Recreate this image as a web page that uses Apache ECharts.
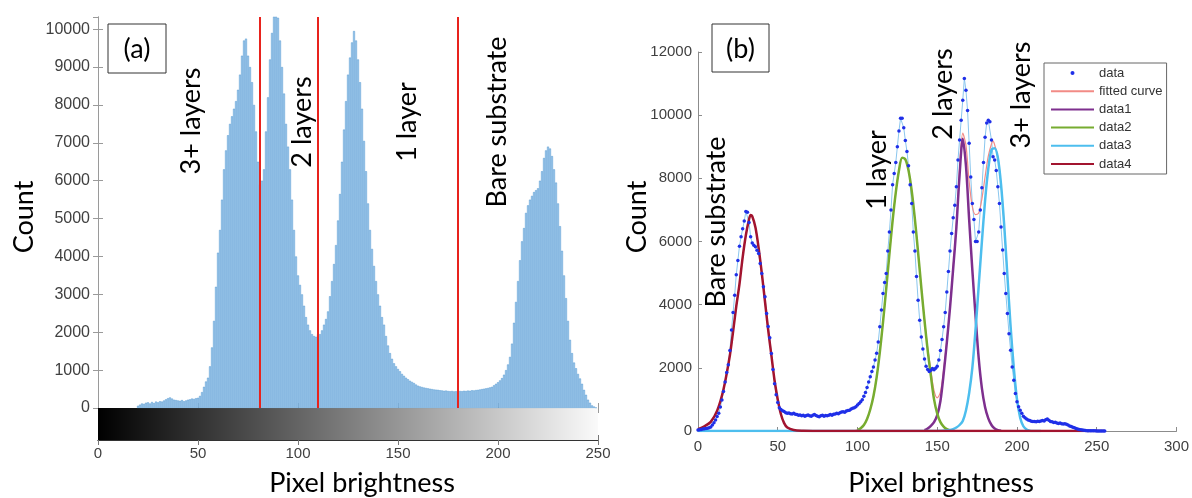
<!DOCTYPE html>
<html>
<head>
<meta charset="utf-8">
<script src="https://cdn.jsdelivr.net/npm/echarts@6/dist/echarts.min.js"></script>
<style>
  html, body { margin: 0; padding: 0; background: #fff; }
  #main { width: 1192px; height: 498px; }
</style>
</head>
<body>
<div id="main"></div>
<script>
// ---------- Panel (a): brightness histogram, one bin per grey level ----------
const histogramCounts = [
  0,0,0,0,0,0,0,0,0,0,
  0,0,0,0,0,0,0,0,0,0,
  60,90,120,110,140,150,120,160,130,170,
  150,180,170,200,230,260,280,250,220,210,
  200,190,210,180,200,220,230,250,240,260,
  270,320,420,560,700,800,1100,1600,2300,3200,
  4100,4700,5500,6300,6800,7200,7500,7700,7900,8100,
  8400,8800,9300,9700,9750,9300,9000,8600,8000,7300,
  6500,5900,6000,6300,7300,8200,9200,9900,10600,10600,
  10300,9700,9000,8300,7500,6900,6300,5500,4700,4000,
  3500,3250,3000,2700,2400,2200,2050,1950,1900,1880,
  1950,1950,2050,2200,2350,2550,2950,3350,3800,4300,
  4950,5650,6500,7350,8100,8800,9250,9650,9950,9700,
  9200,8600,7900,7050,6250,5400,4700,4200,3750,3350,
  3000,2700,2400,2200,1900,1650,1450,1300,1180,1100,
  1030,970,900,850,800,760,720,690,660,620,
  590,570,555,540,530,520,510,500,490,485,
  480,470,465,455,460,450,445,450,440,445,
  440,450,445,455,450,460,455,470,465,475,
  480,490,500,510,520,530,545,560,600,640,
  680,730,790,880,1000,1150,1350,1700,2250,2800,
  3350,3900,4400,4750,5150,5350,5500,5600,5700,5750,
  5800,6000,6250,6600,6800,6900,6850,6650,6300,5950,
  5400,4800,4150,3500,2900,2300,1800,1450,1200,1050,
  900,780,640,480,350,220,140,70,40,15,
  0
];
// Grey-level thresholds separating the layer classes
const thresholds = [81, 110, 180];
// Grey ramp shown under the histogram
const grayRamp = [0, 255];
const brightnessRangeA = [0, 250];
const countRangeA = [0, 10320];

// ---------- Panel (b): inverted histogram with Gaussian fits ----------
const dotCounts = [
  30,40,50,60,70,80,90,100,130,190,
  260,350,460,560,760,980,1250,1550,1850,2100,
  2550,3200,3750,4300,4950,5400,5850,6150,6400,6650,
  6950,6930,6600,6150,5950,5880,5830,5720,5620,5300,
  4990,4570,4250,3720,3310,2950,2450,1950,1500,1150,
  900,740,680,640,620,580,560,570,550,540,
  560,530,520,500,510,480,500,470,490,510,
  480,470,500,520,490,470,450,480,500,470,
  490,480,500,520,500,530,540,560,550,580,
  600,610,590,630,650,660,700,720,740,770,
  820,870,930,990,1100,1220,1380,1550,1720,1880,
  2030,2250,2460,2820,3300,3830,4350,4700,4990,5700,
  6300,7000,7800,8150,8500,9000,9500,9900,9900,9600,
  9200,8850,8400,7800,7200,6300,5700,4890,4140,3510,
  2980,2600,2280,2050,1950,1880,1920,1980,1940,1990,
  2050,2250,2550,2900,3300,3750,4400,5050,5700,6250,
  6750,7150,7730,8580,9210,9840,10470,11160,10790,10150,
  9110,8040,7200,6700,6000,6000,6300,7000,7700,8500,
  9300,9750,9840,9790,9210,8680,8580,8250,7730,7200,
  6460,5730,4990,4350,3720,3080,2560,2030,1610,1190,
  930,770,660,560,470,420,380,350,330,310,
  300,300,290,310,300,320,330,320,360,380,
  340,300,290,270,280,250,240,250,230,220,
  230,210,190,160,140,120,100,80,60,50,
  40,30,20,15,10,8,6,5,5,4,
  3,3,2,2,1,1
];
const fittedCurve = [
  [0,60],[4,150],[8,290],[12,640],[16,1320],[20,2400],[22,3150],[24,3950],[26,4650],[28,5500],
  [30,6200],[32,6700],[33,6840],[34,6800],[36,6450],[38,5800],[40,5000],[42,4100],[44,3200],[46,2400],
  [48,1600],[50,1000],[52,530],[54,250],[56,110],[60,30],[66,5],[72,0],[98,0],[100,40],
  [102,90],[104,190],[106,380],[108,680],[110,1100],[112,1700],[114,2500],[116,3450],[118,4500],[120,5600],
  [122,6650],[124,7550],[126,8250],[128,8650],[130,8600],[132,8250],[134,7600],[136,6700],[138,5650],[140,4550],
  [142,3540],[144,2640],[146,1920],[148,1280],[150,1050],[152,1230],[154,1940],[156,2860],[158,3920],[160,5210],
  [162,6560],[164,8290],[166,9430],[168,9050],[170,7900],[172,7100],[174,6850],[176,6900],[178,7350],[180,8050],
  [182,8700],[184,9090],[185,9180],[186,9060],[188,8680],[190,7805],[192,6500],[194,4900],[196,3300],[198,2000],
  [200,1000],[202,420],[204,150],[206,50],[208,10],[210,0],[255,0]
];
const data1Curve = [
  [142,30],[144,80],[146,160],[148,280],[150,500],[152,950],[154,1800],[156,2800],[158,3900],[160,5150],
  [162,6450],[164,8100],[166,9250],[168,8400],[170,6700],[172,5100],[174,3650],[176,2300],[178,1350],[180,750],
  [182,400],[184,190],[186,80],[188,30],[190,5]
];
const data2Curve = [
  [100,30],[102,90],[104,190],[106,380],[108,680],[110,1100],[112,1700],[114,2500],[116,3450],[118,4500],
  [120,5600],[122,6650],[124,7550],[126,8250],[128,8650],[130,8600],[132,8250],[134,7600],[136,6700],[138,5650],
  [140,4550],[142,3500],[144,2550],[146,1750],[148,1000],[150,550],[152,280],[154,140],[156,60],[158,15]
];
const data3Curve = [
  [0,0],[150,0],[158,30],[160,60],[162,110],[164,190],[166,320],[168,650],[170,1200],[172,2000],
  [174,3200],[176,4600],[178,6000],[180,7300],[182,8300],[184,8900],[186,8950],[188,8650],[190,7800],[192,6500],
  [194,4900],[196,3300],[198,2000],[200,1000],[202,420],[204,150],[206,50],[208,10],[210,0],[215,0]
];
const data4Curve = [
  [0,60],[4,150],[8,290],[12,640],[16,1320],[20,2400],[22,3150],[24,3950],[26,4650],[28,5500],
  [30,6200],[32,6700],[33,6840],[34,6800],[36,6450],[38,5800],[40,5000],[42,4100],[44,3200],[46,2400],
  [48,1600],[50,1000],[52,530],[54,250],[56,110],[60,30],[66,5],[72,0],[255,0]
];
const brightnessRangeB = [0, 300];
const countRangeB = [0, 12000];
const legendNames = ['data', 'fitted curve', 'data1', 'data2', 'data3', 'data4'];

// ---------- shared styles ----------
const tickFont = "'Liberation Sans', Arial, Helvetica, sans-serif";
const titleFont = "Lato, Calibri, sans-serif";
const tickColor = '#404040';
const frameColor = '#9a9a9a';
const plainNumber = v => String(v);

function frameAxis(extra) {
  return Object.assign({
    type: 'value',
    axisLine: { show: true, lineStyle: { color: frameColor, width: 1 } },
    axisTick: { show: true, inside: true, length: 5, lineStyle: { color: frameColor } },
    axisLabel: { show: false },
    splitLine: { show: false }
  }, extra);
}

function vText(text, x, y) {
  return {
    type: 'text', x: x, y: y, rotation: Math.PI / 2, z: 100,
    style: { text: text, fontFamily: titleFont, fontSize: 27, fill: '#000', align: 'center', verticalAlign: 'middle' }
  };
}
function hText(text, x, y) {
  return {
    type: 'text', x: x, y: y, z: 100,
    style: { text: text, fontFamily: titleFont, fontSize: 27, fill: '#000', align: 'center', verticalAlign: 'middle' }
  };
}
function boxedLabel(text, x, y, w, h) {
  return {
    type: 'group', z: 100,
    children: [
      { type: 'rect', shape: { x: x, y: y, width: w, height: h }, style: { fill: '#fff', stroke: '#333', lineWidth: 1 } },
      { type: 'text', x: x + w / 2, y: y + h / 2 + 1,
        style: { text: text, fontFamily: titleFont, fontSize: 27, fill: '#000', align: 'center', verticalAlign: 'middle' } }
    ]
  };
}

const chart = echarts.init(document.getElementById('main'), null, { renderer: 'canvas' });

const option = {
  animation: false,
  backgroundColor: '#fff',
  grid: [
    { left: 98, top: 17, width: 500, height: 391, containLabel: false },   // histogram
    { left: 98, top: 408, width: 500, height: 32, containLabel: false },   // grey ramp
    { left: 698, top: 52, width: 480, height: 379, containLabel: false }   // fits
  ],
  xAxis: [
    frameAxis({ gridIndex: 0, min: brightnessRangeA[0], max: brightnessRangeA[1], interval: 50,
      axisLine: { show: true, lineStyle: { color: '#333', width: 1 } } }),
    frameAxis({ gridIndex: 0, position: 'top', min: brightnessRangeA[0], max: brightnessRangeA[1], interval: 50 }),
    frameAxis({ gridIndex: 1, min: brightnessRangeA[0], max: brightnessRangeA[1], interval: 50,
      axisLine: { show: true, lineStyle: { color: '#555', width: 1 } },
      axisTick: { show: true, inside: true, length: 5, lineStyle: { color: '#777' } },
      axisLabel: { show: true, margin: 6, fontFamily: tickFont, fontSize: 15, color: tickColor, formatter: plainNumber } }),
    frameAxis({ gridIndex: 1, position: 'top', min: brightnessRangeA[0], max: brightnessRangeA[1], interval: 50,
      axisLine: { show: true, lineStyle: { color: '#333', width: 1 } },
      axisTick: { show: true, inside: true, length: 5, lineStyle: { color: '#777' } } }),
    frameAxis({ gridIndex: 2, min: brightnessRangeB[0], max: brightnessRangeB[1], interval: 50,
      axisLine: { show: true, lineStyle: { color: '#8c8c8c', width: 1 } },
      axisTick: { show: true, inside: true, length: 4, lineStyle: { color: '#8c8c8c' } },
      axisLabel: { show: true, margin: 8, fontFamily: tickFont, fontSize: 15, color: tickColor, formatter: plainNumber } })
  ],
  yAxis: [
    frameAxis({ gridIndex: 0, min: countRangeA[0], max: countRangeA[1], interval: 1000,
      axisLabel: { show: true, margin: 8, fontFamily: tickFont, fontSize: 16, color: tickColor,
        showMaxLabel: false, formatter: plainNumber } }),
    frameAxis({ gridIndex: 0, position: 'right', min: countRangeA[0], max: countRangeA[1], interval: 1000 }),
    frameAxis({ gridIndex: 1, min: 0, max: 1, axisTick: { show: false },
      axisLine: { show: true, lineStyle: { color: '#555', width: 1 } } }),
    frameAxis({ gridIndex: 1, position: 'right', min: 0, max: 1, axisTick: { show: false },
      axisLine: { show: true, lineStyle: { color: '#555', width: 1 } } }),
    frameAxis({ gridIndex: 2, min: countRangeB[0], max: countRangeB[1], interval: 2000,
      axisLine: { show: true, lineStyle: { color: '#8c8c8c', width: 1 } },
      axisTick: { show: true, inside: true, length: 4, lineStyle: { color: '#8c8c8c' } },
      axisLabel: { show: true, margin: 6, fontFamily: tickFont, fontSize: 15, color: tickColor, formatter: plainNumber } })
  ],
  legend: {
    // dot marker for the measured points, plain line samples for the curves
    data: legendNames.map((n, i) => i === 0
      ? { name: n, icon: 'circle' }
      : { name: n, itemStyle: { opacity: 0 } }),
    orient: 'vertical',
    left: 1044, top: 63,
    itemWidth: 43, itemHeight: 4, itemGap: 2.2,
    padding: [2, 4, 2, 6],
    borderColor: '#666', borderWidth: 1, backgroundColor: '#fff',
    selectedMode: false,
    textStyle: { fontFamily: tickFont, fontSize: 13, color: '#333', lineHeight: 16 }
  },
  series: [
    {
      type: 'bar', name: 'histogram', xAxisIndex: 0, yAxisIndex: 0,
      data: histogramCounts.map((c, i) => [i, c > 0 ? c : '-']),
      barWidth: 2,
      itemStyle: { color: '#a9d0ef', borderColor: '#5b9cd4', borderWidth: 0.6 },
      markLine: {
        silent: true, symbol: ['none', 'none'],
        label: { show: false },
        lineStyle: { color: '#e8231d', width: 2, type: 'solid' },
        data: thresholds.map(v => ({ xAxis: v }))
      }
    },
    {
      type: 'custom', name: 'ramp', xAxisIndex: 2, yAxisIndex: 2, clip: true,
      data: [grayRamp],
      encode: { x: [0, 1] },
      renderItem: function (params, api) {
        const a = api.coord([api.value(0), 1]);
        const b = api.coord([api.value(1), 0]);
        return {
          type: 'rect',
          shape: { x: a[0], y: a[1], width: b[0] - a[0], height: b[1] - a[1] },
          style: { fill: new echarts.graphic.LinearGradient(0, 0, 1, 0, [
            { offset: 0, color: '#000' }, { offset: 1, color: '#fff' }]) }
        };
      }
    },
    {
      type: 'line', name: 'data', xAxisIndex: 4, yAxisIndex: 4,
      data: dotCounts.map((c, i) => [i, c]),
      symbol: 'circle', symbolSize: 3.5, showSymbol: true, showAllSymbol: true,
      itemStyle: { color: '#1f2fe8' },
      lineStyle: { color: '#8ac6ee', width: 1 }
    },
    {
      type: 'line', name: 'fitted curve', xAxisIndex: 4, yAxisIndex: 4,
      data: fittedCurve, symbol: 'none', smooth: 0.3,
      itemStyle: { color: '#f28b86' },
      lineStyle: { color: '#f28b86', width: 1.2 }
    },
    {
      type: 'line', name: 'data1', xAxisIndex: 4, yAxisIndex: 4,
      data: data1Curve, symbol: 'none', smooth: 0.3,
      itemStyle: { color: '#7e2f8e' },
      lineStyle: { color: '#7e2f8e', width: 2.5 }
    },
    {
      type: 'line', name: 'data2', xAxisIndex: 4, yAxisIndex: 4,
      data: data2Curve, symbol: 'none', smooth: 0.3,
      itemStyle: { color: '#77ac30' },
      lineStyle: { color: '#77ac30', width: 2.5 }
    },
    {
      type: 'line', name: 'data3', xAxisIndex: 4, yAxisIndex: 4,
      data: data3Curve, symbol: 'none', smooth: 0.3,
      itemStyle: { color: '#4dbeee' },
      lineStyle: { color: '#4dbeee', width: 2.5 }
    },
    {
      type: 'line', name: 'data4', xAxisIndex: 4, yAxisIndex: 4,
      data: data4Curve, symbol: 'none', smooth: 0.3,
      itemStyle: { color: '#a2142f' },
      lineStyle: { color: '#a2142f', width: 2.5 }
    }
  ],
  graphic: [
    boxedLabel('(a)', 108, 24, 58, 49),
    boxedLabel('(b)', 712, 24, 57, 48),
    vText('Count', 24, 217),
    vText('Count', 637, 217),
    hText('Pixel brightness', 362, 483),
    hText('Pixel brightness', 941, 483),
    vText('3+ layers', 191, 121),
    vText('2 layers', 302, 122),
    vText('1 layer', 407, 122),
    vText('Bare substrate', 497, 122),
    vText('Bare substrate', 716, 222),
    vText('1 layer', 877, 170),
    vText('2 layers', 943, 94),
    vText('3+ layers', 1021, 95)
  ]
};

chart.setOption(option);
</script>
</body>
</html>
